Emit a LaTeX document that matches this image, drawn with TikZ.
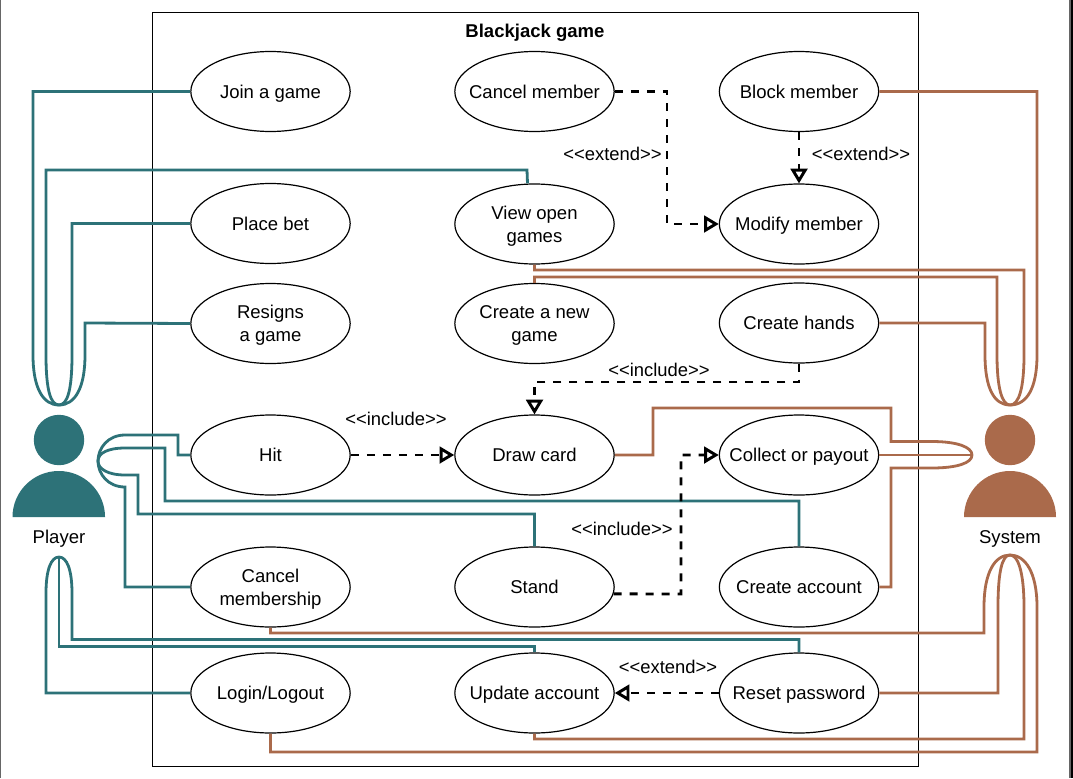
\documentclass[tikz,border=0pt]{standalone}
\usepackage{fontspec}
\setmainfont{Liberation Sans}
\usetikzlibrary{arrows.meta,calc,shapes.geometric}
\definecolor{teal}{HTML}{2D7278}
\definecolor{rust}{HTML}{AA6A4B}
\newcommand{\ucstrut}{\rule[-3pt]{0pt}{16.3pt}}
\tikzset{
  x=0.75pt,y=-0.75pt,
  usecase/.style={draw=black,fill=white,line width=0.9pt,ellipse,minimum width=119.5pt,minimum height=60pt,inner sep=-14pt,align=center,font=\fontsize{13.9}{17.25}\selectfont,execute at begin node=\ucstrut,execute at end node=\ucstrut},
  lab/.style={inner sep=0pt,font=\fontsize{13.8}{16}\selectfont},
  actorlab/.style={inner sep=0pt,font=\fontsize{13.9}{16}\selectfont},
  tealline/.style={draw=teal,line width=2.1pt},
  rustline/.style={draw=rust,line width=2.1pt},
  dep/.style={draw=black,line width=2.2pt,dash pattern=on 6pt off 6pt,-{Triangle[open,length=11pt,width=12.5pt,line width=2.2pt,fill=white]}},
}
\begin{document}
\begin{tikzpicture}
\useasboundingbox (0,0) rectangle (1073,778);
\fill[white] (0,0) rectangle (1073,778);
\draw[draw=black!60,line width=1pt] (0.4,0) -- (0.4,778);
\fill[black!60] (1069,0) rectangle (1071,778);
\fill[black] (1071,0) rectangle (1073,778);
\node[draw=black,line width=0.9pt,minimum width=574.5pt,minimum height=565.5pt,inner sep=0pt,anchor=north west] (frame) at (152,12) {};
\node[inner sep=0pt,font=\bfseries\fontsize{13.9}{16}\selectfont] (title) at (535,32.5) {Blackjack game};

% actor anchors
\coordinate (ptop) at (59,405);
\coordinate (pmid) at (98,461);
\coordinate (pbot) at (59,557);
\coordinate (stop) at (1010,405);
\coordinate (smid) at (972,455);
\coordinate (sbot) at (1010,555);

% use cases
\node[usecase] (join) at (270.5,91.5) {Join a game};
\node[usecase] (cancelm) at (534.5,91.5) {Cancel member};
\node[usecase] (block) at (799,91.5) {Block member};
\node[usecase] (place) at (270.5,223.5) {Place bet};
\node[usecase] (view) at (534.5,224) {\ucstrut View open\\games};
\node[usecase] (modify) at (799,224) {Modify member};
\node[usecase] (resign) at (270.5,323.5) {\ucstrut Resigns\\a game};
\node[usecase] (create) at (534.5,323.5) {\ucstrut Create a new\\game};
\node[usecase] (hands) at (799,323) {Create hands};
\node[usecase] (hit) at (270.5,455) {Hit};
\node[usecase] (draw) at (534.5,455) {Draw card};
\node[usecase] (collect) at (799,455) {Collect or payout};
\node[usecase] (cancelship) at (270.5,587) {\ucstrut Cancel\\membership};
\node[usecase] (stand) at (534.5,587) {Stand};
\node[usecase] (account) at (799,587) {Create account};
\node[usecase] (login) at (270.5,693) {Login/Logout};
\node[usecase] (update) at (534.5,693) {Update account};
\node[usecase] (reset) at (799,693) {Reset password};

% teal connectors
\draw[tealline] (join.west) -- (33,91.5) -- (33,355) .. controls (33,388) and (43,405) .. (ptop);
\draw[tealline] ([xshift=-5.25pt]view.north) -- (527,170) -- (46,170) -- (46,355) .. controls (46,388) and (50,405) .. (ptop);
\draw[tealline] (place.west) -- (72,223.5) -- (72,355) .. controls (72,388) and (68,405) .. (ptop);
\draw[tealline] (resign.west) -- (85,323) -- (85,355) .. controls (85,388) and (75,405) .. (ptop);
\draw[tealline] (hit.west) -- (178,455) -- (178,435) -- (125,435) .. controls (108,435) and (98,448) .. (pmid);
\draw[tealline] (account.north) -- (799,501) -- (165,501) -- (165,448) -- (125,448) .. controls (108,448) and (98,453) .. (pmid);
\draw[tealline] (stand.north) -- (534.5,514) -- (138,514) -- (138,475) -- (125,475) .. controls (108,475) and (98,469) .. (pmid);
\draw[tealline] (cancelship.west) -- (125,587) -- (125,487) .. controls (108,487) and (98,474) .. (pmid);
\draw[tealline] (login.west) -- (46,693) -- (46,593) .. controls (46,570) and (51,557) .. (pbot);
\draw[tealline] (update.north) -- (534.5,646.5) -- (59,646.5) -- (pbot);
\draw[tealline] (reset.north) -- (799,639.5) -- (72,639.5) -- (72,593) .. controls (72,570) and (67,557) .. (pbot);

% rust connectors
\draw[rustline] (block.east) -- (1037,91.5) -- (1037,355) .. controls (1037,388) and (1027,405) .. (stop);
\draw[rustline] (view.south) -- (534.5,270) -- (1024,270) -- (1024,355) .. controls (1024,388) and (1019,405) .. (stop);
\draw[rustline] (create.north) -- (534.5,277) -- (997,277) -- (997,355) .. controls (997,388) and (1002,405) .. (stop);
\draw[rustline] (hands.east) -- (985,323) -- (985,355) .. controls (985,388) and (994,405) .. (stop);
\draw[rustline] (draw.east) -- (653,455) -- (653,408) -- (891,408) -- (891,441.5) -- (932,441.5) .. controls (957,441.5) and (972,447) .. (smid);
\draw[rustline] (collect.east) -- (smid);
\draw[rustline] (account.east) -- (891,587) -- (891,468) -- (932,468) .. controls (957,468) and (972,463) .. (smid);
\draw[rustline] (cancelship.south) -- (270.5,633) -- (984,633) -- (984,607) .. controls (984,572) and (995,555) .. (sbot);
\draw[rustline] (reset.east) -- (998,693) -- (998,607) .. controls (998,572) and (1002,555) .. (sbot);
\draw[rustline] (update.south) -- (534.5,739) -- (1024,739) -- (1024,607) .. controls (1024,572) and (1018,555) .. (sbot);
\draw[rustline] (login.south) -- (270.5,752) -- (1037,752) -- (1037,607) .. controls (1037,572) and (1025,555) .. (sbot);

% dashed dependencies
\draw[dep] (cancelm.east) -- (667,91.5) -- (667,224) -- (modify.west);
\draw[dep] (block.south) -- (modify.north);
\draw[dep] (hands.south) -- (799,382) -- (534.5,382) -- (draw.north);
\draw[dep] (hit.east) -- (draw.west);
\draw[dep] (stand.-5) -- (681,594) -- (681,455) -- (collect.west);
\draw[dep] (reset.west) -- (update.east);

% dependency labels
\node[lab] (l1) at (612.5,154) {<{}<extend>{}>};
\node[lab] (l2) at (861,153.5) {<{}<extend>{}>};
\node[lab] (l3) at (659,369.5) {<{}<include>{}>};
\node[lab] (l4) at (396,418.5) {<{}<include>{}>};
\node[lab] (l5) at (622,528.5) {<{}<include>{}>};
\node[lab] (l6) at (668,667) {<{}<extend>{}>};

% actors
\fill[teal] (59,440) circle[radius=18.9pt];
\fill[teal] (12.5,517) arc[start angle=180,end angle=0,x radius=34.7pt,y radius=34.5pt] -- cycle;
\node[actorlab] (player) at (59,539) {Player};
\fill[rust] (1010,440) circle[radius=18.9pt];
\fill[rust] (964,517) arc[start angle=180,end angle=0,x radius=34.5pt,y radius=34.5pt] -- cycle;
\node[actorlab] (system) at (1010,539) {System};
\end{tikzpicture}
\end{document}
